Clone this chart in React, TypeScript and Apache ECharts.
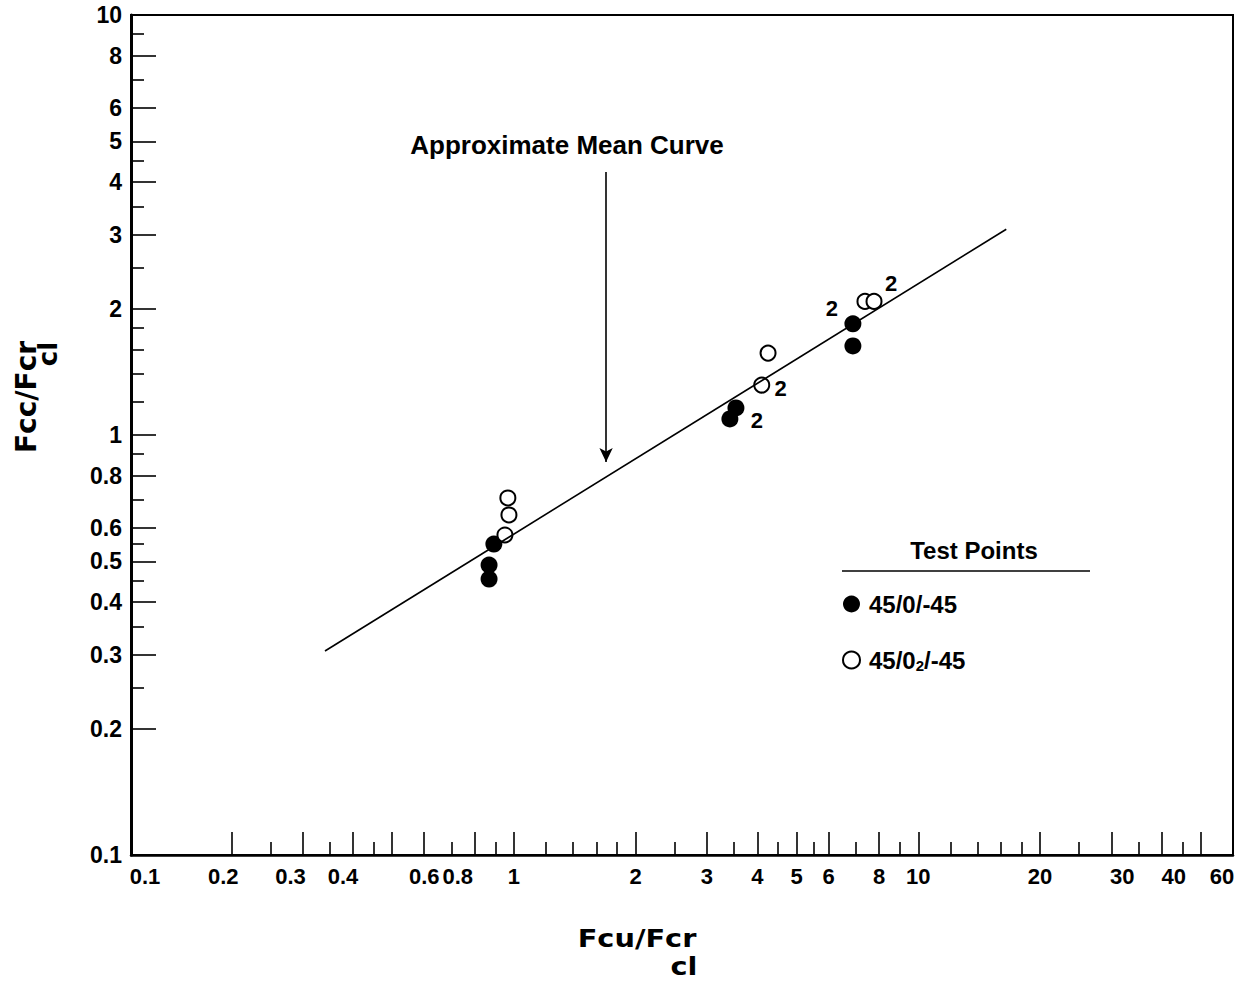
import React, { useEffect, useRef } from 'react';
import * as echarts from 'echarts';

const filledX = [0.892, 0.868, 0.868, 3.42, 3.54, 6.89, 6.89];
const filledY = [0.55, 0.49, 0.454, 1.092, 1.16, 1.84, 1.63];
const filledCount = ['', '', '', '2', '', '2', ''];
const openX = [0.966, 0.972, 0.95, 4.1, 4.25, 7.38, 7.77];
const openY = [0.708, 0.645, 0.578, 1.315, 1.567, 2.08, 2.08];
const openCount = ['', '', '', '2', '', '', '2'];
const meanCurveX = [0.341, 16.5];
const meanCurveY = [0.306, 3.09];
const arrowX = 1.69;
const arrowY = [4.23, 0.862];

const xRange = [0.113, 60];
const yRange = [0.1, 10];
const xLabelValues = [0.1, 0.2, 0.3, 0.4, 0.6, 0.8, 1, 2, 3, 4, 5, 6, 8, 10, 20, 30, 40, 60];
const xMajorTicks = [0.2, 0.3, 0.4, 0.5, 0.6, 0.8, 1, 2, 3, 4, 5, 6, 8, 10, 20, 30, 40, 50];
const xMinorTicks = [0.25, 0.35, 0.45, 0.7, 0.9, 1.2, 1.4, 1.6, 1.8, 2.5, 3.5, 4.5, 5.5, 7, 9, 12, 14, 16, 18, 25, 35, 45];
const yLabelValues = [0.1, 0.2, 0.3, 0.4, 0.5, 0.6, 0.8, 1, 2, 3, 4, 5, 6, 8, 10];
const yMajorTicks = [0.2, 0.3, 0.4, 0.5, 0.6, 0.8, 1, 2, 3, 4, 5, 6, 8];
const yMinorTicks = [0.25, 0.35, 0.45, 0.55, 0.7, 0.9, 1.2, 1.4, 1.6, 1.8, 2.5, 3.5, 4.5, 7, 9];

// label nudges (px) mimicking the reference's hand-placed tick labels
const xLabelNudge: Record<string, number> = { '0.1': 14, '0.2': -8, '0.3': -12, '0.4': -10, '0.8': -17, '30': 11, '40': 12, '60': -11 };
// offsets of the "2" multiplicity labels relative to their point
const filledLabelOffset: Record<number, number[]> = { 3: [27, 2], 5: [-21, -15] };
const openLabelOffset: Record<number, number[]> = { 3: [19, 3], 6: [17, -18] };

const L = (v: number) => Math.log10(v);
const SANS = '"Liberation Sans", Arial, sans-serif';
const HEAVY = '"DejaVu Sans", sans-serif';

function nearestIndex(list: number[], logv: number) {
  let best = 0;
  let bd = Infinity;
  list.forEach((v, i) => {
    const d = Math.abs(L(v) - logv);
    if (d < bd) { bd = d; best = i; }
  });
  return best;
}

export default function App() {
  const ref = useRef<HTMLDivElement>(null);
  useEffect(() => {
    if (!ref.current) return;
    const chart = echarts.init(ref.current, null, { renderer: 'svg' });
    const xMinL = L(xRange[0]);
    const xMaxL = L(xRange[1]);
    const yMinL = L(yRange[0]);
    const yMaxL = L(yRange[1]);

    const xRich: Record<string, any> = {};
    xLabelValues.forEach((v, i) => {
      const s = xLabelNudge[String(v)] || 0;
      xRich['p' + i] = {
        fontSize: 22, fontWeight: 'bold', fontFamily: SANS, color: '#000',
        padding: s > 0 ? [0, 0, 0, 2 * s] : [0, -2 * s, 0, 0],
      };
    });

    const labelStyle = { show: true, position: 'inside', color: '#000', fontSize: 22, fontWeight: 'bold', fontFamily: SANS, opacity: 1 };
    const filledData = filledX.map((x, i) => {
      const item: any = { value: [L(x), L(filledY[i])] };
      if (filledCount[i]) {
        item.label = { ...labelStyle, formatter: filledCount[i], offset: filledLabelOffset[i] || [20, 0] };
      }
      return item;
    });
    const openData = openX.map((x, i) => {
      const item: any = { value: [L(x), L(openY[i])] };
      if (openCount[i]) {
        item.label = { ...labelStyle, formatter: openCount[i], offset: openLabelOffset[i] || [20, 0] };
      }
      return item;
    });

    const option: any = {
      animation: false,
      backgroundColor: '#fff',
      grid: { left: 131, right: 11, top: 15, bottom: 126, show: true, borderColor: '#000', borderWidth: 2, backgroundColor: 'transparent' },
      xAxis: [
        {
          type: 'value', min: xMinL, max: xMaxL, position: 'bottom',
          axisLine: { show: true, onZero: false, lineStyle: { color: '#000', width: 2.5 } },
          axisTick: { show: true, inside: true, length: 23, customValues: xMajorTicks.map(L), lineStyle: { color: '#000', width: 1.6 } },
          axisLabel: {
            show: true, margin: 10, customValues: xLabelValues.map(v => Math.min(Math.max(L(v), xMinL), xMaxL)),
            formatter: (v: number) => { const i = nearestIndex(xLabelValues, v); return '{p' + i + '|' + String(xLabelValues[i]) + '}'; },
            rich: xRich, fontSize: 22, fontWeight: 'bold', fontFamily: SANS, color: '#000',
          },
          splitLine: { show: false },
        },
        {
          type: 'value', min: xMinL, max: xMaxL, position: 'bottom',
          axisLine: { show: false, onZero: false },
          axisTick: { show: true, inside: true, length: 13, customValues: xMinorTicks.map(L), lineStyle: { color: '#000', width: 1.6 } },
          axisLabel: { show: false },
          splitLine: { show: false },
        },
      ],
      yAxis: [
        {
          type: 'value', min: yMinL, max: yMaxL, position: 'left',
          axisLine: { show: true, onZero: false, lineStyle: { color: '#000', width: 3 } },
          axisTick: { show: true, inside: true, length: 25, customValues: yMajorTicks.map(L), lineStyle: { color: '#000', width: 1.6 } },
          axisLabel: {
            show: true, margin: 9, customValues: yLabelValues.map(L),
            formatter: (v: number) => String(yLabelValues[nearestIndex(yLabelValues, v)]),
            fontSize: 23, fontWeight: 'bold', fontFamily: SANS, color: '#000',
          },
          splitLine: { show: false },
        },
        {
          type: 'value', min: yMinL, max: yMaxL, position: 'left',
          axisLine: { show: false, onZero: false },
          axisTick: { show: true, inside: true, length: 13, customValues: yMinorTicks.map(L), lineStyle: { color: '#000', width: 1.6 } },
          axisLabel: { show: false },
          splitLine: { show: false },
        },
      ],
      legend: {
        orient: 'vertical', left: 837, top: 587, itemWidth: 17, itemHeight: 17, itemGap: 32,
        selectedMode: false,
        data: ['45/0/-45', '45/0₂/-45'],
        formatter: (name: string) => name === '45/0₂/-45' ? '{n|45/0}{s|2}{n|/-45}' : '{n|' + name + '}',
        textStyle: {
          color: '#000',
          rich: {
            n: { fontSize: 24, fontWeight: 'bold', fontFamily: SANS, color: '#000' },
            s: { fontSize: 15, fontWeight: 'bold', fontFamily: SANS, color: '#000', verticalAlign: 'bottom', padding: [10, 0, 0, 0] },
          },
          padding: [0, 0, 0, 4],
        },
      },
      series: [
        {
          type: 'line', name: 'Approximate Mean Curve', xAxisIndex: 0, yAxisIndex: 0,
          data: meanCurveX.map((x, i) => [L(x), L(meanCurveY[i])]),
          symbol: 'none', silent: true,
          lineStyle: { color: '#000', width: 1.6 },
          markLine: {
            silent: true, symbol: ['none', 'arrow'], symbolSize: [10, 14],
            lineStyle: { color: '#000', width: 1.6, type: 'solid' },
            label: { show: false },
            data: [[{ coord: [L(arrowX), L(arrowY[0])] }, { coord: [L(arrowX), L(arrowY[1])] }]],
          },
        },
        {
          type: 'scatter', name: '45/0/-45', xAxisIndex: 0, yAxisIndex: 0,
          symbol: 'circle', symbolSize: 17,
          itemStyle: { color: '#000', opacity: 1 },
          data: filledData,
        },
        {
          type: 'scatter', name: '45/0₂/-45', xAxisIndex: 0, yAxisIndex: 0,
          symbol: 'circle', symbolSize: 15,
          itemStyle: { color: '#fff', borderColor: '#000', borderWidth: 2, opacity: 1 },
          data: openData,
        },
      ],
      graphic: [
        { type: 'text', x: 567, y: 145, style: { text: 'Approximate Mean Curve', fontSize: 26, fontWeight: 'bold', fontFamily: SANS, fill: '#000', textAlign: 'center', textVerticalAlign: 'middle', align: 'center', verticalAlign: 'middle' } },
        { type: 'text', x: 974, y: 550, style: { text: 'Test Points', fontSize: 24, fontWeight: 'bold', fontFamily: SANS, fill: '#000', textAlign: 'center', textVerticalAlign: 'middle', align: 'center', verticalAlign: 'middle' } },
        { type: 'line', shape: { x1: 842, y1: 571, x2: 1090, y2: 571 }, style: { stroke: '#000', lineWidth: 1.5 } },
        { type: 'text', x: 637, y: 938, scaleX: 1.2, style: { text: 'Fcu/Fcr', fontSize: 24, fontWeight: 'bold', fontFamily: HEAVY, fill: '#000', textAlign: 'center', textVerticalAlign: 'middle', align: 'center', verticalAlign: 'middle' } },
        { type: 'text', x: 684, y: 966, scaleX: 1.2, style: { text: 'cl', fontSize: 24, fontWeight: 'bold', fontFamily: HEAVY, fill: '#000', textAlign: 'center', textVerticalAlign: 'middle', align: 'center', verticalAlign: 'middle' } },
        { type: 'text', x: 26, y: 397, rotation: Math.PI / 2, style: { text: 'Fcc/Fcr', fontSize: 28, fontWeight: 'bold', fontFamily: HEAVY, fill: '#000', textAlign: 'center', textVerticalAlign: 'middle', align: 'center', verticalAlign: 'middle' } },
        { type: 'text', x: 48, y: 354, rotation: Math.PI / 2, style: { text: 'cl', fontSize: 26, fontWeight: 'bold', fontFamily: HEAVY, fill: '#000', textAlign: 'center', textVerticalAlign: 'middle', align: 'center', verticalAlign: 'middle' } },
      ],
    };
    chart.setOption(option);
    return () => chart.dispose();
  }, []);
  return <div ref={ref} style={{ position: 'absolute', left: 0, top: 0, width: 1244, height: 981, background: '#fff' }} />;
}
